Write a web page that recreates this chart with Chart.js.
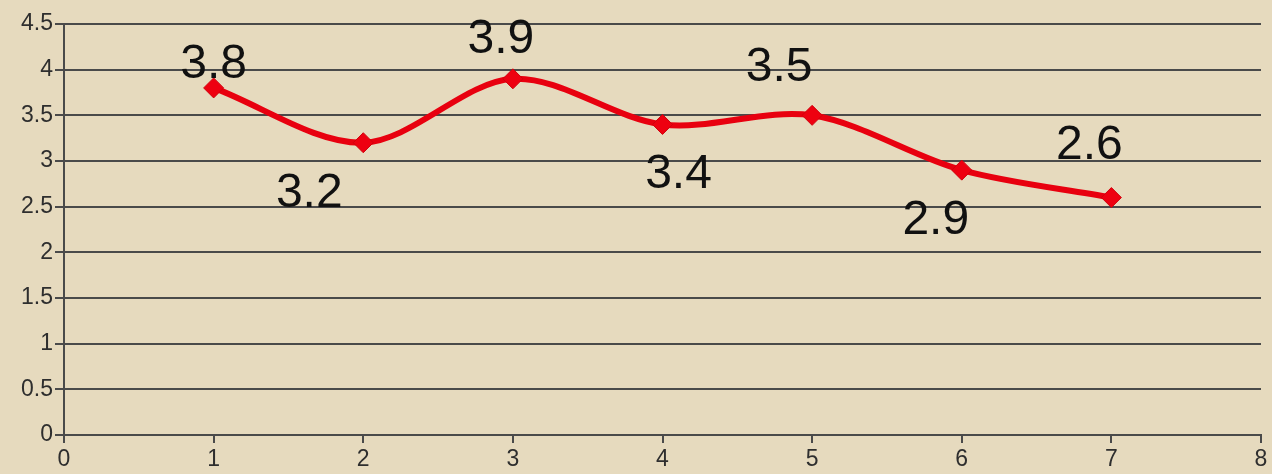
<!DOCTYPE html>
<html>
<head>
<meta charset="utf-8">
<script src="https://cdn.jsdelivr.net/npm/chart.js@4"></script>
<style>
  html, body { margin: 0; padding: 0; background: #e6dabe; }
  #wrap { width: 1272px; height: 474px; }
</style>
</head>
<body>
<div id="wrap"><canvas id="chart" width="1272" height="474"></canvas></div>
<script>
// data
const xValues = [1, 2, 3, 4, 5, 6, 7]
const yValues = [3.8, 3.2, 3.9, 3.4, 3.5, 2.9, 2.6]
const xTicks = [0, 1, 2, 3, 4, 5, 6, 7, 8]
const yTicks = [0, 0.5, 1, 1.5, 2, 2.5, 3, 3.5, 4, 4.5]

// where each value label sits relative to its point
const labelOffsets = [[0, -23], [-54, 51], [-12, -39], [16, 50], [-33, -48], [-26, 51], [-22, -52]]

const points = xValues.map((x, i) => ({ x: x, y: yValues[i] }))

const gridColor = "#4a4a4a"
const tickFont = { size: 23, family: "'Liberation Sans', Arial, sans-serif" }

const valueLabels = {
  id: "valueLabels",
  afterDatasetsDraw(chart) {
    const ctx = chart.ctx
    const meta = chart.getDatasetMeta(0)
    ctx.save()
    ctx.font = "48px 'Liberation Sans', Arial, sans-serif"
    ctx.fillStyle = "#111"
    ctx.textAlign = "center"
    ctx.textBaseline = "middle"
    meta.data.forEach((pt, i) => {
      const off = labelOffsets[i]
      ctx.fillText(String(yValues[i]), pt.x + off[0], pt.y + off[1])
    })
    ctx.restore()
  }
}

new Chart(document.getElementById("chart"), {
  type: "scatter",
  data: {
    datasets: [{
      data: points,
      showLine: true,
      borderColor: "#e8000f",
      borderWidth: 6,
      tension: 0.32,
      pointStyle: "rectRot",
      pointRadius: 10,
      pointBackgroundColor: "#ee0010",
      pointBorderColor: "#d0000c",
      pointBorderWidth: 1
    }]
  },
  options: {
    responsive: false,
    animation: false,
    layout: { padding: { top: 24, right: 9, left: 0, bottom: 0 } },
    plugins: { legend: { display: false }, tooltip: { enabled: false } },
    scales: {
      x: {
        type: "linear",
        min: 0,
        max: 8,
        afterBuildTicks(scale) { scale.ticks = xTicks.map(v => ({ value: v })) },
        afterFit(scale) { scale.height = 39 },
        grid: { drawOnChartArea: false, drawTicks: true, tickLength: 8, color: gridColor, lineWidth: 2 },
        border: { color: gridColor, width: 2 },
        ticks: { color: "#2e2e2e", padding: 3, font: tickFont, callback: v => String(v) }
      },
      y: {
        min: 0,
        max: 4.5,
        afterBuildTicks(scale) { scale.ticks = yTicks.map(v => ({ value: v })) },
        afterFit(scale) { scale.width = 64 },
        grid: { color: gridColor, lineWidth: 2, tickLength: 9 },
        border: { color: gridColor, width: 2 },
        ticks: { color: "#2e2e2e", padding: 2, font: tickFont, callback: v => String(v) }
      }
    }
  },
  plugins: [valueLabels]
})
</script>
</body>
</html>
